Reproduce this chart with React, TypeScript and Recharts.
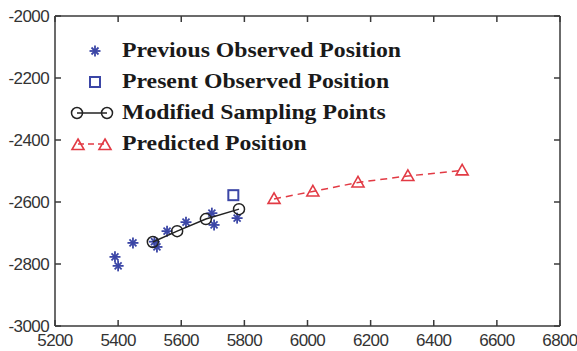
import React from "react";
import {
  ScatterChart,
  Scatter,
  XAxis,
  YAxis,
  Legend,
} from "recharts";

const xTicks = [5200, 5400, 5600, 5800, 6000, 6200, 6400, 6600, 6800];
const yTicks = [-3000, -2800, -2600, -2400, -2200, -2000];

const previousObserved = [
  { x: 5390, y: -2777 },
  { x: 5400, y: -2806 },
  { x: 5447, y: -2732 },
  { x: 5515, y: -2728 },
  { x: 5523, y: -2745 },
  { x: 5555, y: -2694 },
  { x: 5615, y: -2665 },
  { x: 5697, y: -2636 },
  { x: 5704, y: -2674 },
  { x: 5777, y: -2652 },
];
const presentObserved = [{ x: 5765, y: -2578 }];
const modifiedSampling = [
  { x: 5510, y: -2729 },
  { x: 5587, y: -2694 },
  { x: 5678, y: -2655 },
  { x: 5783, y: -2623 },
];
const predicted = [
  { x: 5894, y: -2590 },
  { x: 6017, y: -2566 },
  { x: 6160, y: -2537 },
  { x: 6318, y: -2516 },
  { x: 6490, y: -2498 },
];

const legendLabels = [
  "Previous Observed Position",
  "Present Observed Position",
  "Modified Sampling Points",
  "Predicted Position",
];

const BLUE = "#3b46a6";
const RED = "#e23a44";
const AXIS = "#3a3a3a";
const TICK_LEN = 6;
const TICK_FONT = {
  fontFamily: "Liberation Sans, Arial, sans-serif",
  fontSize: 17,
  letterSpacing: -0.6,
  fill: "#333",
};

const Star = ({ cx, cy }: any) => (
  <g stroke={BLUE} strokeWidth={1.8}>
    <line x1={cx - 5.5} y1={cy} x2={cx + 5.5} y2={cy} />
    <line x1={cx} y1={cy - 5.5} x2={cx} y2={cy + 5.5} />
    <line x1={cx - 3.5} y1={cy - 3.5} x2={cx + 3.5} y2={cy + 3.5} />
    <line x1={cx - 3.5} y1={cy + 3.5} x2={cx + 3.5} y2={cy - 3.5} />
  </g>
);
const Square = ({ cx, cy }: any) => (
  <rect x={cx - 5} y={cy - 5} width={10} height={10} fill="none" stroke={BLUE} strokeWidth={2} />
);
const Circle = ({ cx, cy }: any) => (
  <circle cx={cx} cy={cy} r={5.5} fill="none" stroke="#222" strokeWidth={1.5} />
);
const Triangle = ({ cx, cy }: any) => (
  <path
    d={`M${cx},${cy - 6} L${cx + 6},${cy + 4.5} L${cx - 6},${cy + 4.5} Z`}
    fill="none"
    stroke={RED}
    strokeWidth={1.6}
  />
);

const BottomTick = ({ x, y, payload }: any) => (
  <g>
    <line x1={x} y1={y - 3} x2={x} y2={y - 3 - TICK_LEN} stroke={AXIS} strokeWidth={1.5} />
    <text x={x} y={y} dy="1em" textAnchor="middle" {...TICK_FONT}>
      {payload.value}
    </text>
  </g>
);
const TopTick = ({ x, y }: any) => (
  <line x1={x} y1={y} x2={x} y2={y + TICK_LEN} stroke={AXIS} strokeWidth={1.5} />
);
const LeftTick = ({ x, y, payload }: any) => (
  <g>
    <line x1={x + 6} y1={y} x2={x + 6 + TICK_LEN} y2={y} stroke={AXIS} strokeWidth={1.5} />
    <text x={x} y={y} dy="0.35em" textAnchor="end" {...TICK_FONT}>
      {payload.value}
    </text>
  </g>
);
const RightTick = ({ x, y }: any) => (
  <line x1={x} y1={y} x2={x - TICK_LEN} y2={y} stroke={AXIS} strokeWidth={1.5} />
);

const legendMarkers = [
  <Star cx={22} cy={10} />,
  <Square cx={22} cy={10} />,
  <g>
    <line x1={4} y1={10} x2={34} y2={10} stroke="#222" strokeWidth={1.5} />
    <Circle cx={4} cy={10} />
    <Circle cx={34} cy={10} />
  </g>,
  <g>
    <line x1={5} y1={10} x2={32} y2={10} stroke={RED} strokeWidth={1.5} strokeDasharray="6 4" />
    <Triangle cx={5} cy={11} />
    <Triangle cx={32} cy={11} />
  </g>,
];

const LegendBox = () => (
  <div>
    {legendLabels.map((label, i) => (
      <div key={label} style={{ display: "flex", alignItems: "center", height: 31 }}>
        <svg width={44} height={20} style={{ overflow: "visible", flex: "none" }}>
          {legendMarkers[i]}
        </svg>
        <span
          style={{
            marginLeft: 5,
            display: "inline-block",
            whiteSpace: "nowrap",
            transform: "scaleX(1.13)",
            transformOrigin: "left center",
            fontFamily: "Liberation Serif, Times New Roman, serif",
            fontWeight: "bold",
            fontSize: 21,
            color: "#1a1a1a",
          }}
        >
          {label}
        </span>
      </div>
    ))}
  </div>
);

export default function App() {
  return (
    <div style={{ position: "absolute", left: 0, top: 0, background: "#fff" }}>
      <ScatterChart width={577} height={351} margin={{ top: 15, right: 16, bottom: 5, left: 5 }}>
        <XAxis
          type="number"
          dataKey="x"
          domain={[5200, 6800]}
          ticks={xTicks}
          interval={0}
          tickSize={0}
          tickMargin={3}
          height={20}
          stroke={AXIS}
          strokeWidth={1.5}
          tickLine={false}
          tick={<BottomTick />}
          allowDataOverflow
        />
        <XAxis
          xAxisId="top"
          orientation="top"
          type="number"
          dataKey="x"
          domain={[5200, 6800]}
          ticks={xTicks}
          interval={0}
          tickSize={0}
          tickMargin={0}
          height={1}
          stroke={AXIS}
          strokeWidth={1.5}
          tickLine={false}
          tick={<TopTick />}
          allowDataOverflow
        />
        <YAxis
          type="number"
          dataKey="y"
          domain={[-3000, -2000]}
          ticks={yTicks}
          interval={0}
          tickSize={0}
          tickMargin={6}
          width={50}
          stroke={AXIS}
          strokeWidth={1.5}
          tickLine={false}
          tick={<LeftTick />}
          allowDataOverflow
        />
        <YAxis
          yAxisId="right"
          orientation="right"
          type="number"
          dataKey="y"
          domain={[-3000, -2000]}
          ticks={yTicks}
          interval={0}
          tickSize={0}
          tickMargin={0}
          width={1}
          stroke={AXIS}
          strokeWidth={1.5}
          tickLine={false}
          tick={<RightTick />}
          allowDataOverflow
        />
        <Legend
          layout="vertical"
          align="center"
          verticalAlign="middle"
          wrapperStyle={{ top: 35, left: 73, width: "auto", height: "auto" }}
          content={<LegendBox />}
        />
        <Scatter data={previousObserved} shape={<Star />} isAnimationActive={false} />
        <Scatter
          data={modifiedSampling}
          shape={<Circle />}
          line={{ stroke: "#222", strokeWidth: 1.5 }}
          isAnimationActive={false}
        />
        <Scatter
          data={presentObserved}
          xAxisId="top"
          yAxisId="right"
          shape={<Square />}
          isAnimationActive={false}
        />
        <Scatter
          data={predicted}
          shape={<Triangle />}
          line={{ stroke: RED, strokeWidth: 1.5, strokeDasharray: "7 5" }}
          isAnimationActive={false}
        />
      </ScatterChart>
    </div>
  );
}
